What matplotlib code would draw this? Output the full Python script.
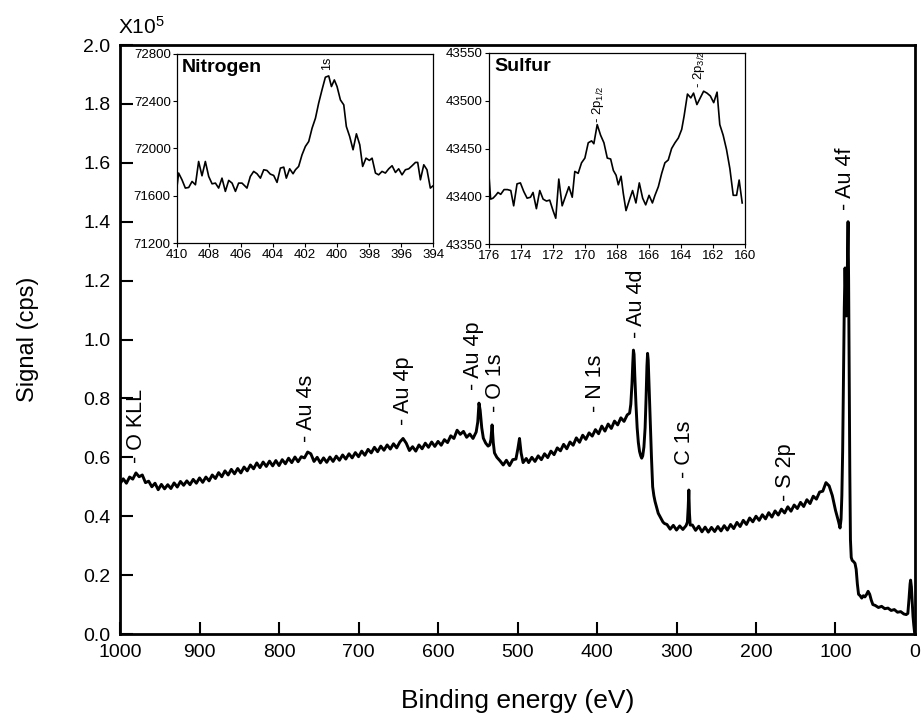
import numpy as np
import matplotlib
matplotlib.use("Agg")
import matplotlib.pyplot as plt

plt.rcParams['font.family'] = ['Liberation Sans', 'DejaVu Sans']
plt.rcParams['mathtext.fontset'] = 'custom'
plt.rcParams['mathtext.rm'] = 'Liberation Sans'
plt.rcParams['mathtext.it'] = 'Liberation Sans:italic'
plt.rcParams['mathtext.bf'] = 'Liberation Sans:bold'

# ---------------- survey spectrum (signal in units of 1e5 cps) ----------------
# segment A: 1000 -> 552 eV, 4 eV step
segA_start, segA_step = 1000, 4
segA_signal = [
    .510, .527, .512, .533, .526, .547, .534, .540, .514, .519,
    .500, .512, .490, .508, .493, .507, .494, .513, .499, .518,
    .505, .520, .507, .525, .512, .530, .515, .533, .520, .540,
    .528, .548, .534, .554, .540, .559, .544, .562, .547, .567,
    .554, .574, .561, .581, .565, .584, .569, .587, .571, .589,
    .572, .592, .578, .597, .582, .601, .585, .602, .598, .618,
    .612, .586, .600, .581, .598, .583, .601, .586, .604, .590,
    .608, .594, .612, .598, .616, .602, .621, .607, .627, .615,
    .634, .619, .638, .624, .642, .628, .646, .632, .652, .664,
    .648, .623, .636, .621, .642, .629, .648, .634, .652, .637,
    .654, .641, .660, .650, .673, .664, .692, .678, .688, .668,
    .679, .664, .686]
# segment B: Au 4p / O 1s
segB_energy = [550, 548.5, 547, 545, 543, 540, 537, 535, 533.5, 532, 530.5, 529, 526]
segB_signal = [.72, .784, .76, .70, .665, .648, .638, .642, .66, .71, .65, .615, .600]
# segment C
segC_energy = [522, 518, 514, 510, 506, 502, 499.5, 497.5, 495.5, 493, 489]
segC_signal = [.588, .574, .590, .572, .592, .594, .63, .664, .615, .582, .596]
# segment D: 486 -> 362 eV, 4 eV step
segD_start, segD_step = 486, 4
segD_signal = [
    .582, .600, .586, .605, .592, .612, .599, .621, .609, .632,
    .622, .644, .629, .652, .641, .666, .651, .675, .661, .683,
    .672, .694, .680, .706, .689, .713, .698, .723, .710, .734,
    .722, .744]
# segment E: Au 4d
segE_energy = [359, 357.5, 356, 355, 354.2, 353.4, 352.5, 351, 349.5, 348, 346.5, 345,
               343.8, 342.5, 341, 339.5, 338.3, 337.2, 336.4, 335.6, 334.5, 333, 331.5,
               330, 328.5, 327, 325, 323, 321, 319, 317, 315]
segE_signal = [.75, .78, .85, .92, .964, .95, .88, .78, .70, .65, .62, .605,
               .597, .605, .635, .70, .80, .91, .953, .93, .84, .72, .60,
               .50, .47, .45, .43, .41, .40, .39, .38, .375]
# segment F: 312 -> 288 eV, then C 1s
segF_start, segF_step = 312, 4
segF_signal = [.372, .356, .369, .353, .367, .355, .368]
segC1s_energy = [286.3, 285.3, 284.5, 283.7, 282.8]
segC1s_signal = [.38, .43, .489, .41, .37]
# segment G: 280 -> 96 eV, 4 eV step
segG_start, segG_step = 280, 4
segG_signal = [
    .370, .352, .366, .347, .363, .346, .362, .348, .365, .350,
    .368, .353, .372, .358, .379, .365, .386, .372, .394, .381,
    .400, .386, .405, .391, .412, .397, .418, .404, .424, .411,
    .432, .417, .438, .426, .447, .433, .456, .443, .468, .458,
    .482, .485, .514, .503, .470, .420, .380]
# segment H: Au 4f and valence region
segH_energy = [94.3, 93, 92, 91, 90, 89, 88, 87.2, 86.4, 85.6, 84.8, 84.2, 83.5, 82.8,
               82, 81.2, 80.2, 79, 77, 75.5, 74, 72.5, 71, 69, 67, 65, 63, 61, 59, 57,
               55, 53, 50, 46, 42, 38, 34, 30, 26, 22, 18, 14, 11, 9, 7.5, 6.2, 5.5,
               4.5, 3.5, 2.5, 1.5, 0.5]
segH_signal = [.36, .39, .47, .62, .85, 1.10, 1.243, 1.15, 1.08, 1.12, 1.30, 1.40, 1.20, .90,
               .55, .32, .26, .25, .245, .24, .22, .17, .135, .13, .122, .130, .126, .134,
               .145, .135, .115, .10, .097, .090, .094, .086, .088, .080, .083, .074, .076,
               .068, .066, .07, .12, .17, .183, .16, .11, .06, .03, .005]

def grid(start, step, vals):
    return list(start - step * np.arange(len(vals)))

survey_energy = (grid(segA_start, segA_step, segA_signal) + segB_energy + segC_energy +
                 grid(segD_start, segD_step, segD_signal) + segE_energy +
                 grid(segF_start, segF_step, segF_signal) + segC1s_energy +
                 grid(segG_start, segG_step, segG_signal) + segH_energy)
survey_signal = (segA_signal + segB_signal + segC_signal + segD_signal + segE_signal +
                 segF_signal + segC1s_signal + segG_signal + segH_signal)

peak_labels = ['- O KLL', '- Au 4s', '- Au 4p', '- Au 4p', '- O 1s', '- N 1s',
               '- Au 4d', '- C 1s', '- S 2p', '- Au 4f']
peak_label_energy = [979, 766, 643.6, 555.6, 528.3, 402.5, 349.7, 289.7, 162.3, 88]
peak_label_signal = [0.58, 0.653, 0.71, 0.828, 0.755, 0.754, 1.005, 0.53, 0.45, 1.44]

# ---------------- Nitrogen inset ----------------
n_energy = [410.00, 409.90, 409.69, 409.48, 409.27, 409.06, 408.85, 408.65, 408.44, 408.23,
            408.02, 407.81, 407.60, 407.40, 407.19, 406.98, 406.77, 406.56, 406.35, 406.15,
            405.94, 405.73, 405.63, 405.42, 405.21, 405.00, 404.79, 404.58, 404.38, 404.17,
            403.96, 403.75, 403.54, 403.33, 403.17, 402.96, 402.75, 402.60, 402.40, 402.19,
            401.98, 401.77, 401.56, 401.35, 401.15, 400.94, 400.73, 400.52, 400.35, 400.17,
            400.00, 399.79, 399.58, 399.42, 399.21, 399.00, 398.79, 398.58, 398.40, 398.19,
            397.98, 397.81, 397.60, 397.40, 397.19, 396.98, 396.77, 396.56, 396.35, 396.15,
            395.94, 395.73, 395.52, 395.31, 395.10, 394.96, 394.79, 394.58, 394.38, 394.17,
            394.00]
n_counts = [71679, 71792, 71735, 71665, 71670, 71721, 71693, 71890, 71769, 71890,
            71763, 71701, 71707, 71665, 71749, 71637, 71730, 71707, 71637, 71707,
            71707, 71679, 71665, 71763, 71806, 71786, 71749, 71820, 71814, 71783,
            71772, 71713, 71834, 71842, 71749, 71828, 71786, 71820, 71848, 71946,
            72017, 72059, 72172, 72256, 72383, 72496, 72603, 72614, 72524, 72580,
            72524, 72411, 72369, 72186, 72101, 71989, 72124, 72031, 71848, 71918,
            71899, 71918, 71792, 71777, 71806, 71792, 71828, 71854, 71797, 71828,
            71777, 71820, 71828, 71854, 71882, 71882, 71735, 71862, 71820, 71665,
            71684]

# ---------------- Sulfur inset ----------------
s_energy = [176.00, 175.90, 175.75, 175.58, 175.44, 175.27, 175.06, 174.85, 174.64, 174.46,
            174.25, 174.04, 173.83, 173.62, 173.41, 173.25, 173.04, 172.83, 172.62, 172.41,
            172.21, 172.00, 171.83, 171.64, 171.43, 171.22, 171.01, 170.80, 170.64, 170.43,
            170.22, 170.01, 169.80, 169.59, 169.45, 169.24, 169.03, 168.82, 168.61, 168.40,
            168.23, 168.06, 167.92, 167.75, 167.61, 167.44, 167.23, 167.03, 166.82, 166.61,
            166.40, 166.21, 166.00, 165.79, 165.63, 165.42, 165.21, 165.01, 164.80, 164.59,
            164.38, 164.17, 163.96, 163.81, 163.60, 163.39, 163.22, 163.01, 162.80, 162.59,
            162.38, 162.17, 161.96, 161.75, 161.58, 161.37, 161.16, 160.95, 160.74, 160.53,
            160.37, 160.18]
s_counts = [43421, 43397, 43398, 43401, 43404, 43402, 43407, 43407, 43406, 43390,
            43413, 43414, 43405, 43398, 43399, 43404, 43387, 43406, 43397, 43395,
            43396, 43385, 43377, 43418, 43390, 43400, 43410, 43399, 43426, 43424,
            43435, 43440, 43456, 43458, 43455, 43475, 43464, 43456, 43440, 43439,
            43427, 43422, 43412, 43421, 43403, 43385, 43396, 43406, 43393, 43414,
            43398, 43391, 43401, 43393, 43401, 43410, 43424, 43435, 43438, 43450,
            43456, 43461, 43470, 43484, 43507, 43503, 43508, 43496, 43503, 43510,
            43508, 43505, 43498, 43509, 43475, 43464, 43449, 43429, 43401, 43401,
            43417, 43393]

# ---------------- figure ----------------
fig = plt.figure(figsize=(9.22, 7.19), dpi=100)
ax = fig.add_axes([0.1302, 0.1182, 0.8622, 0.8192])
ax.plot(survey_energy, survey_signal, color='black', lw=2.1)
ax.set_xlim(1000, 0)
ax.set_ylim(0, 2.0)
ax.set_xticks(np.arange(1000, -1, -100))
ax.set_yticks(np.arange(0, 2.01, 0.2))
ax.set_yticklabels([f"{v:.1f}" for v in np.arange(0, 2.01, 0.2)])
ax.tick_params(direction='in', length=9, width=1.5, labelsize=14, pad=7)
for sp in ax.spines.values():
    sp.set_linewidth(2.0)
ax.set_xlabel('Binding energy (eV)', fontsize=19, labelpad=20)
ax.set_ylabel('Signal (cps)', fontsize=17, labelpad=32)
ax.text(-0.002, 1.012, r'X10$^{5}$', transform=ax.transAxes, fontsize=15,
        ha='left', va='bottom')

for lab, e, v in zip(peak_labels, peak_label_energy, peak_label_signal):
    ax.text(e, v, lab, rotation=90, ha='center', va='bottom', fontsize=15.5)

# Nitrogen inset
axn = fig.add_axes([0.192, 0.662, 0.2777, 0.263])
axn.plot(n_energy, n_counts, color='black', lw=1.2)
axn.set_xlim(410, 394)
axn.set_ylim(71200, 72800)
axn.set_xticks(np.arange(410, 393, -2))
axn.set_yticks(np.arange(71200, 72801, 400))
axn.tick_params(direction='out', length=3, width=0.8, labelsize=9.5, pad=1.5)
for sp in axn.spines.values():
    sp.set_linewidth(0.9)
axn.text(0.02, 0.975, 'Nitrogen', transform=axn.transAxes, fontsize=14,
         fontweight='bold', ha='left', va='top')
axn.text(400.6, 72660, '1s', rotation=90, ha='center', va='bottom', fontsize=9)

# Sulfur inset
axs = fig.add_axes([0.5304, 0.6606, 0.2777, 0.2657])
axs.plot(s_energy, s_counts, color='black', lw=1.2)
axs.set_xlim(176, 160)
axs.set_ylim(43350, 43550)
axs.set_xticks(np.arange(176, 159, -2))
axs.set_yticks(np.arange(43350, 43551, 50))
axs.tick_params(direction='out', length=3, width=0.8, labelsize=9.5, pad=1.5)
for sp in axs.spines.values():
    sp.set_linewidth(0.9)
axs.text(0.02, 0.975, 'Sulfur', transform=axs.transAxes, fontsize=14,
         fontweight='bold', ha='left', va='top')
axs.text(169.2, 43477, r'- 2p$_{\mathrm{1/2}}$', rotation=90, ha='center', va='bottom', fontsize=9.5)
axs.text(162.9, 43513, r'- 2p$_{\mathrm{3/2}}$', rotation=90, ha='center', va='bottom', fontsize=9.5)

fig.savefig('out.png', dpi=100)
